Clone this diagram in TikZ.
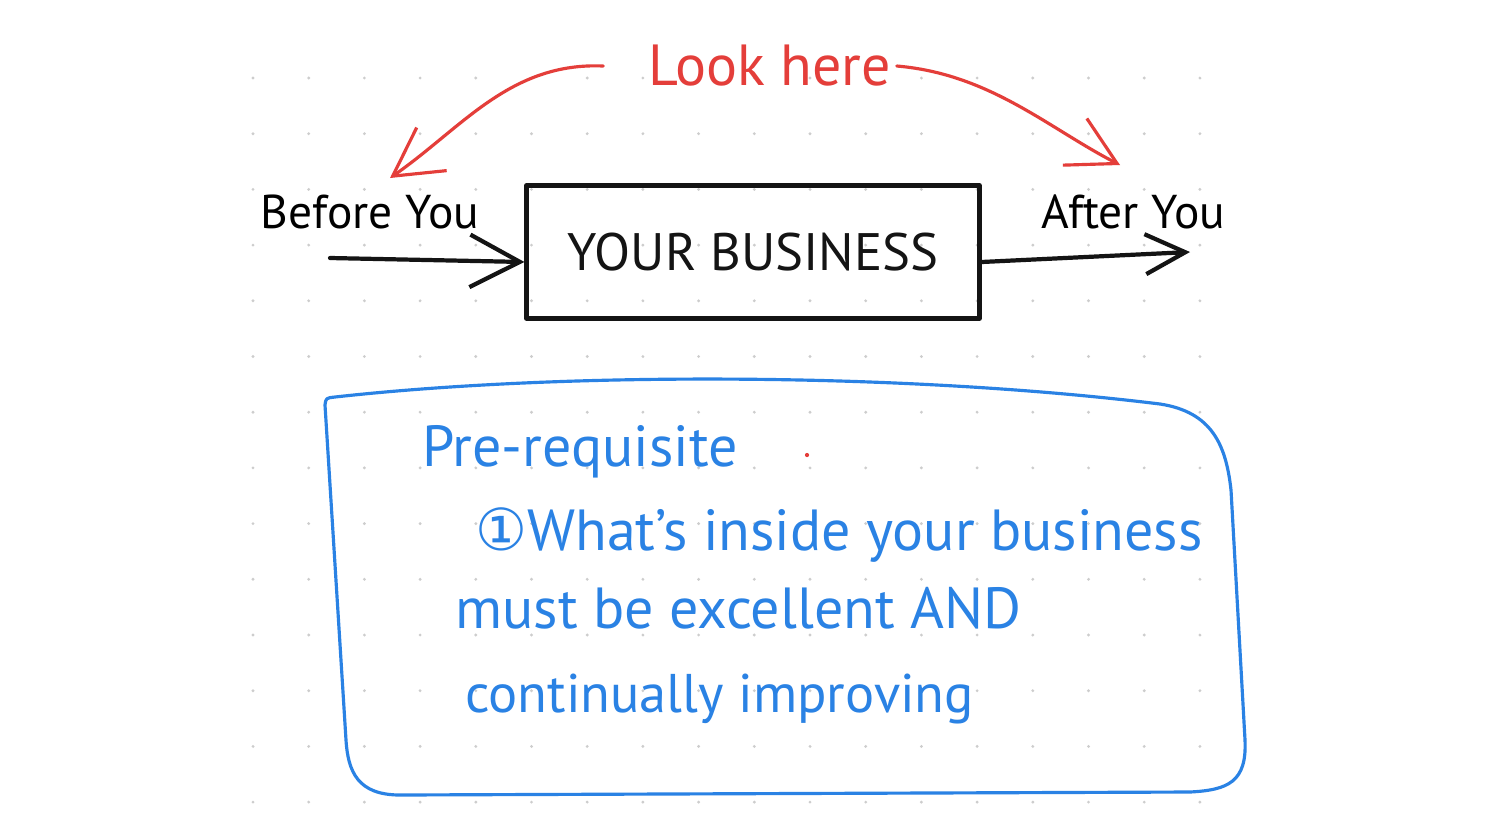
\documentclass[tikz,border=0pt]{standalone}
\usepackage{fontspec}
\setmainfont{PT Sans}
\newfontfamily\circfont{DejaVu Sans}
\usetikzlibrary{arrows.meta,positioning}
\definecolor{penred}{RGB}{228,62,58}
\definecolor{penblue}{RGB}{42,130,228}
\definecolor{dotgray}{RGB}{205,205,205}
\begin{document}
\begin{tikzpicture}[
    x=0.02cm, y=-0.02cm,
    hand/.style={font=\fontsize{27}{30}\selectfont, inner sep=2pt},
    note/.style={font=\fontsize{33}{36}\selectfont, text=penblue, anchor=base west, inner sep=0pt},
    ink/.style={line width=2.4pt, black!92, line cap=round, line join=round},
    redarr/.style={line width=1.8pt, penred, line cap=round, line join=round, -{Straight Barb[length=0.95cm, width=1.05cm]}},
    bizbox/.style={draw, ink, minimum width=9.06cm, minimum height=2.66cm, font=\fontsize{30}{32}\selectfont}
]
\fill[white] (0,0) rectangle (1500,833);
\useasboundingbox (0,0) rectangle (1500,833);
\foreach \i in {0,...,17}
  \foreach \j in {0,...,13}
    \fill[dotgray] ({253+55.7*\i},{78+55.7*\j}) circle (0.9pt);

\node[hand, text=penred, font=\fontsize{33}{36}\selectfont, inner sep=3pt] (look) at (770,66) {Look here};
\node[hand] (before) at (370,212) {Before You};
\node[bizbox] (biz) at (753,252) {YOUR BUSINESS};
\node[hand] (after) at (1133,212) {After You};

\coordinate (beforetip) at (390,178);
\coordinate (aftertip) at (1120,165);
\coordinate (instart) at (330,258);
\coordinate (outend) at (1190,252);

\draw[redarr] ([xshift=-0.8cm]look.west) .. controls (510,62) and (462,128) .. (beforetip);
\draw[redarr] (look.east) .. controls (990,74) and (1048,128) .. (aftertip);
\draw[ink, -{Straight Barb[length=1cm, width=1.05cm]}] (instart) -- ([yshift=-0.2cm]biz.west);
\draw[ink, -{Straight Barb[length=0.8cm, width=0.8cm]}] ([yshift=-0.2cm]biz.east) -- (outend);

\draw[penblue, line width=1.8pt, line join=round]
  (325,405) .. controls (326,398) .. (335,397)
  .. controls (560,372) and (900,372) .. (1160,404)
  .. controls (1212,412) and (1226,445) .. (1231,490)
  -- (1245,740) .. controls (1247,782) and (1228,790) .. (1190,792)
  -- (400,795) .. controls (358,795) and (348,772) .. (346,740) -- cycle;

\node[note] (pre) at (422,466) {Pre-requisite};
\node[note] (item) at (475,550) {{\circfont ①}What's inside your business};
\node[note] (item2) at (455,628) {must be excellent AND};
\node[note, font=\fontsize{31}{34}\selectfont] (item3) at (465,712) {continually improving};
\fill[penred] (807,455) circle (1.2pt);
\end{tikzpicture}
\end{document}
